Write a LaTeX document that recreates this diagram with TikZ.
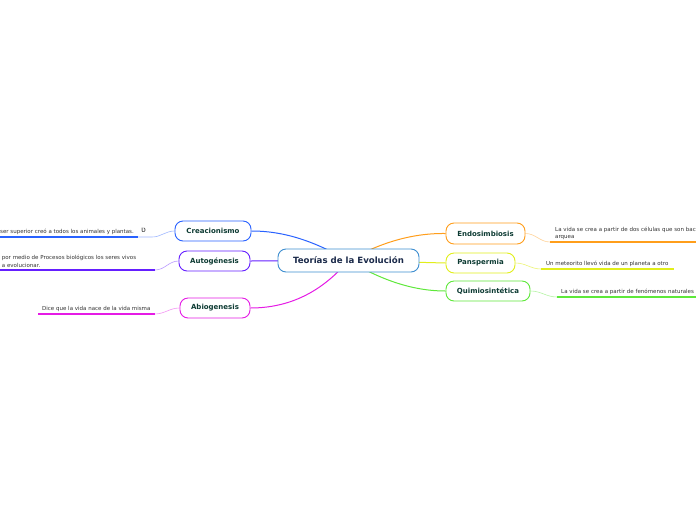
\documentclass[tikz,border=0pt]{standalone}
\usepackage{fontspec}
\setmainfont{DejaVu Sans}
\usepackage{tikz}
\usetikzlibrary{backgrounds}
\definecolor{ccenter}{HTML}{3E8ED0}
\definecolor{cnavy}{HTML}{1B2A4A}
\definecolor{cteal}{HTML}{0D3B33}
\definecolor{cgray}{HTML}{333333}
\definecolor{cblue}{HTML}{2962FF}
\definecolor{cpurple}{HTML}{651FFF}
\definecolor{cmag}{HTML}{E51BE5}
\definecolor{corange}{HTML}{FF9E1B}
\definecolor{cyellow}{HTML}{E1EE1A}
\definecolor{cgreen}{HTML}{5EE83A}
\tikzset{
  topic/.style={rounded corners=8pt, draw=ccenter, fill=white, line width=0.9pt,
    minimum width=141pt, minimum height=23pt, text=cnavy,
    font=\fontsize{8.6}{10}\selectfont\bfseries},
  branch/.style={rounded corners=8pt, fill=white, line width=0.9pt,
    minimum height=20pt, text=cteal, font=\fontsize{7}{8}\selectfont\bfseries},
  leaf/.style={font=\fontsize{5.5}{7}\selectfont, text=cgray, align=left, inner ysep=2pt},
  uline/.style={line width=1.4pt},
  stem/.style={line width=1pt},
  twig/.style={line width=0.6pt}
}

\begin{document}
\begin{tikzpicture}[x=1pt,y=-1pt]
    \path[use as bounding box] (0,0) rectangle (696,520);
    \clip (0,0) rectangle (696,520);

    % central topic and main branches
    \node[topic] (ct) at (348.5,260.5) {Teorías de la Evolución};
    \node[branch, draw=cblue, minimum width=76pt] (cr) at (213,231) {Creacionismo};
    \node[branch, draw=cpurple, minimum width=71pt] (au) at (214.5,261) {Autogénesis};
    \node[branch, draw=cmag, minimum width=70pt] (ab) at (215,308) {Abiogenesis};
    \node[branch, draw=corange, minimum width=79pt, minimum height=21pt] (en) at (485.5,233.5) {Endosimbiosis};
    \node[branch, draw=cyellow, minimum width=69pt] (pa) at (480.5,263) {Panspermia};
    \node[branch, draw=cgreen, minimum width=84pt] (qu) at (488,291) {Quimiosintética};

    % leaves
    \node[leaf, anchor=south east, inner xsep=4pt] (cl) at (138,237) {ser superior creó a todos los animales y plantas.};
    \node[font=\fontsize{8}{9}\selectfont, text=cgray] (clicon) at (143.5,230) {ʋ};
    \node[leaf, anchor=south east, inner xsep=2pt, text width=151pt,
      font=\fontsize{5.5}{8}\selectfont] (al) at (155,270) {por medio de Procesos biológicos los seres vivos\\a evolucionar.};
    \node[leaf, anchor=south west, inner xsep=4pt] (bl) at (38,314) {Dice que la vida nace de la vida misma};
    \node[leaf, anchor=south west, inner xsep=5pt, text width=200pt] (el) at (550,242) {La vida se crea a partir de dos células que son bacterias y\\arquea};
    \node[leaf, anchor=south west, inner xsep=5pt] (pl) at (541,269) {Un meteorito llevó vida de un planeta a otro};
    \node[leaf, anchor=south west, inner xsep=4pt, text width=160pt] (ql) at (557,297) {La vida se crea a partir de fenómenos naturales};

    \draw[uline, cblue] (cl.south west) -- (cl.south east);
    \draw[uline, cpurple] (al.south west) -- (al.south east);
    \draw[uline, cmag] (bl.south west) -- (bl.south east);
    \draw[uline, corange] (el.south west) -- (el.south east);
    \draw[uline, cyellow] (pl.south west) -- (pl.south east);
    \draw[uline, cgreen] (ql.south west) -- (ql.south east);

    \begin{scope}[on background layer]
      \fill[white] (0,0) rectangle (696,520);
      \draw[stem, cblue] (ct.center) .. controls (320,245) and (290,231) .. (cr.east);
      \draw[stem, cpurple] (ct.center) -- (au.east);
      \draw[stem, cmag] (ct.center) .. controls (330,282) and (300,308) .. (ab.east);
      \draw[stem, corange] (ct.center) .. controls (378,244) and (410,233) .. (en.west);
      \draw[stem, cyellow] (ct.center) -- (pa.west);
      \draw[stem, cgreen] (ct.center) .. controls (378,278) and (410,291) .. (qu.west);

      \draw[twig, cblue!45] (cl.south east) -- ++(14,0) to[out=0,in=180] (cr.west);
      \draw[twig, cpurple!45] (al.south east) to[out=0,in=180] (au.west);
      \draw[twig, cmag!45] (bl.south east) to[out=0,in=180] (ab.west);
      \draw[twig, corange!45] (en.east) to[out=0,in=180] (el.south west);
      \draw[twig, cyellow!60] (pa.east) to[out=0,in=180] (pl.south west);
      \draw[twig, cgreen!45] (qu.east) to[out=0,in=180] (ql.south west);
    \end{scope}
  \end{tikzpicture}
\end{document}
